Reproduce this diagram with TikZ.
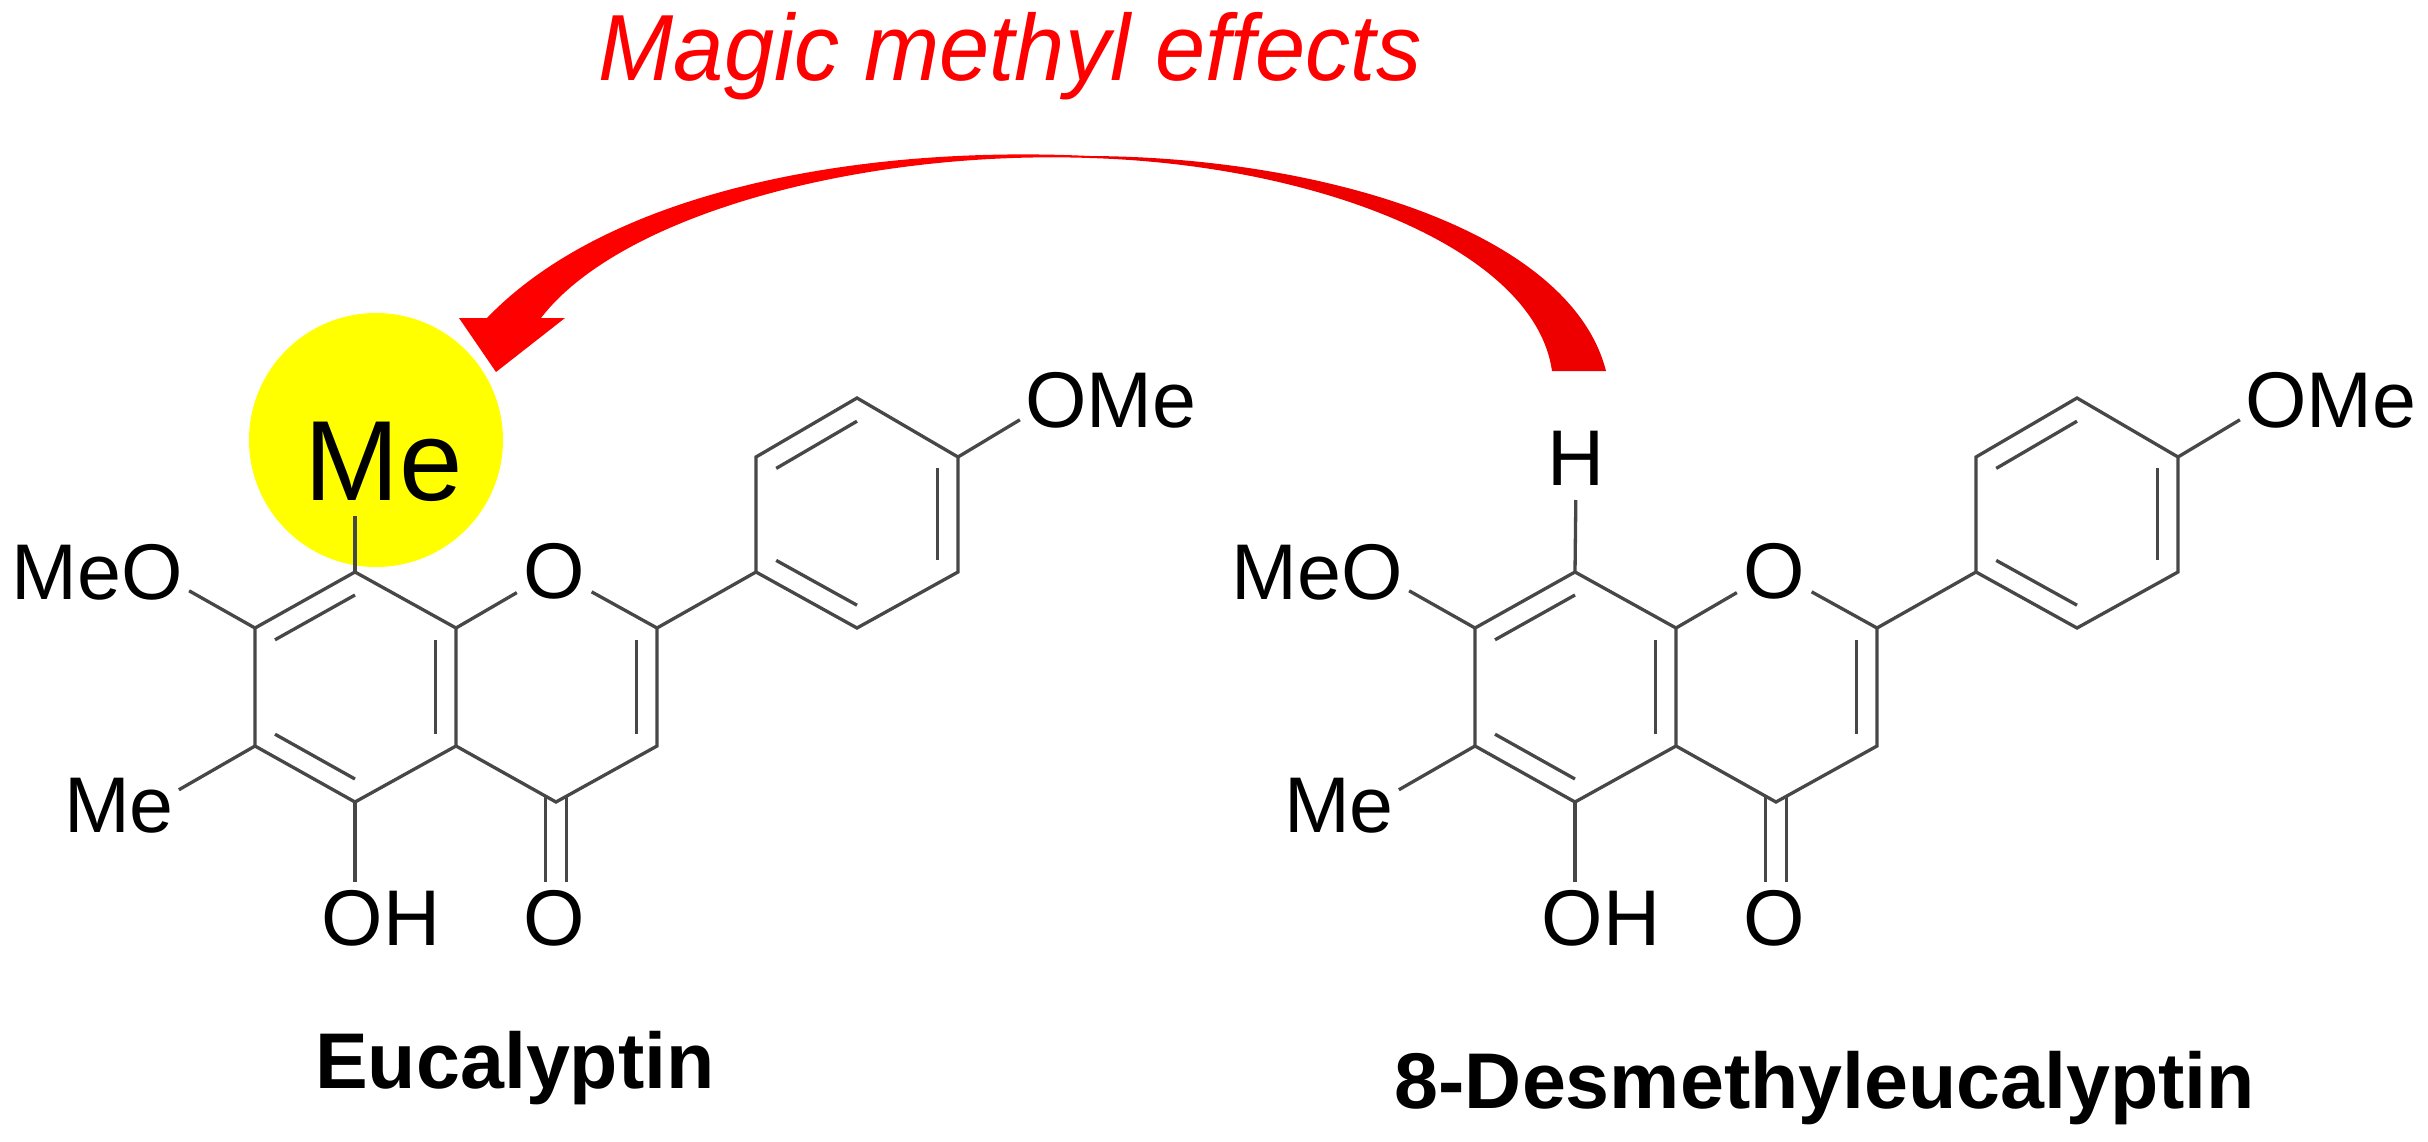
\documentclass[tikz,border=0pt]{standalone}
\usepackage{fontspec}
\setmainfont{Liberation Sans}
\usetikzlibrary{calc}
\definecolor{tailred}{RGB}{238,0,0}
\definecolor{headred}{RGB}{255,0,0}
\definecolor{spotyellow}{RGB}{255,255,0}
\tikzset{
  bond/.style={draw=black!72,line width=3.3pt,line cap=butt,line join=miter},
  atom/.style={inner sep=0pt,outer sep=0pt,anchor=base,text=black,font=\fontsize{79}{90}\selectfont},
  ringo/.style={circle,inner sep=0pt,outer sep=0pt,minimum size=86pt,text=black,font=\fontsize{79}{90}\selectfont},
  bigatom/.style={atom,font=\fontsize{114}{130}\selectfont},
  title/.style={atom,font=\fontsize{79}{90}\selectfont\bfseries},
  magic/.style={atom,text=headred,xscale=0.96,font=\fontsize{94}{104}\selectfont\itshape},
}
\newcommand\innerbond[3]{\draw[bond] ($(#1)!.2!(#3)$) -- ($(#2)!.2!(#3)$);}
\newcommand\flavone[2]{%
\begin{scope}[xshift=#2pt]
  % ring skeleton vertices
  \coordinate (#1c8) at (355,572);
  \coordinate (#1c7) at (255,628);
  \coordinate (#1c6) at (255,746);
  \coordinate (#1c5) at (355,802);
  \coordinate (#1c4a) at (456,746);
  \coordinate (#1c8a) at (456,628);
  \coordinate (#1c2) at (657,628);
  \coordinate (#1c3) at (657,746);
  \coordinate (#1c4) at (556,802);
  \coordinate (#1b1) at (756,572);
  \coordinate (#1b2) at (756,457);
  \coordinate (#1b3) at (857,398);
  \coordinate (#1b4) at (958,457);
  \coordinate (#1b5) at (958,572);
  \coordinate (#1b6) at (857,628);
  \coordinate (#1ca) at (355,687);
  \coordinate (#1cc) at (556,687);
  \coordinate (#1cb) at (857,514);
  % atom labels
  \node[ringo] (#1o1) at (554,571) {O};
  \node[atom] (#1meo) at (97,599) {MeO};
  \node[atom] (#1me6) at (119,832) {Me};
  \node[atom] (#1oh) at (381,945) {OH};
  \node[atom] (#1co) at (554,945) {O};
  \node[atom] (#1ome) at (1111,427) {OMe};
  % single and outer bonds
  \draw[bond] (#1c7) -- (#1c8) -- (#1c8a) -- (#1c4a) -- (#1c5) -- (#1c6) -- (#1c7);
  \draw[bond] (#1c4a) -- (#1c4) -- (#1c3) -- (#1c2) -- (#1b1);
  \draw[bond] (#1b1) -- (#1b2) -- (#1b3) -- (#1b4) -- (#1b5) -- (#1b6) -- cycle;
  \draw[bond] (#1c8a) -- (#1o1);
  \draw[bond] (#1c2) -- (#1o1);
  % inner lines of double bonds
  \innerbond{#1c7}{#1c8}{#1ca}
  \innerbond{#1c8a}{#1c4a}{#1ca}
  \innerbond{#1c5}{#1c6}{#1ca}
  \innerbond{#1c2}{#1c3}{#1cc}
  \innerbond{#1b2}{#1b3}{#1cb}
  \innerbond{#1b4}{#1b5}{#1cb}
  \innerbond{#1b6}{#1b1}{#1cb}
  % substituents
  \draw[bond] (#1c7) -- ([xshift=6.5pt,yshift=9pt]#1meo.south east);
  \draw[bond] (#1c6) -- ([xshift=5pt,yshift=43pt]#1me6.south east);
  \draw[bond,shorten >=8pt] (#1c5) -- (#1c5 |- #1oh.north);
  \draw[bond] ([xshift=-10.5pt,yshift=6pt]#1c4) -- ([xshift=-8.5pt,yshift=8pt]#1co.north);
  \draw[bond] ([xshift=10.5pt,yshift=6pt]#1c4) -- ([xshift=12.5pt,yshift=8pt]#1co.north);
  \draw[bond] (#1b4) -- ([xshift=-5.5pt,yshift=8pt]#1ome.south west);
\end{scope}}
\begin{document}
\begin{tikzpicture}[x=1pt,y=-1pt]
  \useasboundingbox (0,0) rectangle (2428,1141);
  \fill[white] (0,0) rectangle (2428,1141);
  % highlight
  \node[circle,fill=spotyellow,inner sep=0pt,minimum size=254pt] (spot) at (376,440) {};
  % molecules
  \flavone{l}{0}
  \flavone{r}{1220}
  \node[bigatom] (bigme) at (384,500) {Me};
  \draw[bond,shorten >=15pt] (lc8) -- (lc8 |- bigme.south);
  \node[atom] (hyd) at (1576,485) {H};
  \draw[bond,shorten >=15pt] (rc8) -- (hyd.south);
  % names
  \node[title] (nameA) at (515,1088) {Eucalyptin};
  \node[title] (nameB) at (1825,1108) {8-Desmethyleucalyptin};
  \node[magic] (magictext) at (1010,80) {Magic methyl effects};
  % curved arrow
  \fill[tailred] (1606,371) .. controls (1570,230) and (1320,157) .. (1090,156)
    -- (1090,158) .. controls (1320,165) and (1535,250) .. (1552,371) -- cycle;
  \fill[headred] (1090,156) .. controls (860,145) and (610,190) .. (487,318)
    -- (459,318) -- (496,372) -- (565,318) -- (541,318)
    .. controls (620,215) and (860,150) .. (1090,158) -- cycle;
\end{tikzpicture}
\end{document}
